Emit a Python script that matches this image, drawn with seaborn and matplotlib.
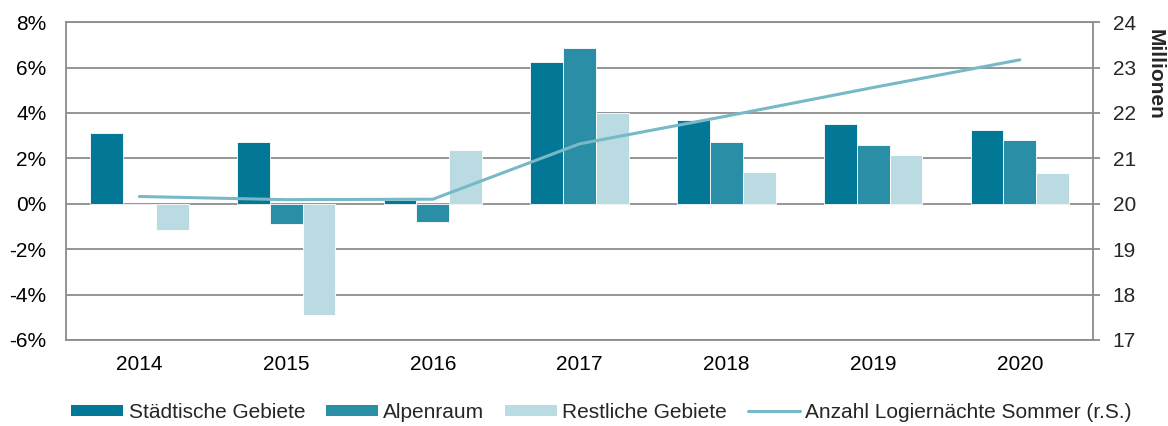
import matplotlib
matplotlib.use("Agg")
import matplotlib.pyplot as plt
from matplotlib.patches import Patch
from matplotlib.lines import Line2D
import numpy as np
import pandas as pd
import seaborn as sns

years = ["2014", "2015", "2016", "2017", "2018", "2019", "2020"]
staedtisch = [3.12, 2.74, 0.18, 6.24, 3.68, 3.53, 3.26]
alpenraum = [0.0, -0.91, -0.81, 6.84, 2.71, 2.60, 2.82]
restlich = [-1.15, -4.9, 2.35, 3.99, 1.40, 2.13, 1.35]
logiernaechte = [20.16, 20.09, 20.10, 21.32, 21.93, 22.56, 23.17]
series = ["Städtische Gebiete", "Alpenraum", "Restliche Gebiete"]
line_label = "Anzahl Logiernächte Sommer (r.S.)"

colors = ["#037896", "#2a8fa6", "#badbe2"]
line_col = "#77b9c7"
grid_col = "#8c8c8c"

df = pd.DataFrame({"Jahr": years * 3,
                   "Wert": staedtisch + alpenraum + restlich,
                   "Gebiet": np.repeat(series, len(years))})

sns.set_style("white")
plt.rcParams["font.family"] = ["Liberation Sans", "DejaVu Sans"]
fs = 15

fig = plt.figure(figsize=(11.68, 4.26), dpi=100)
ax = fig.add_axes([0.0565, 0.202, 0.8795, 0.746])

ax.set_axisbelow(True)
ax.yaxis.grid(True, color=grid_col, lw=1.3)
sns.barplot(data=df, x="Jahr", y="Wert", hue="Gebiet", palette=colors,
            width=0.67, edgecolor="white", linewidth=0.6, saturation=1,
            legend=False, ax=ax)
ax.set_xlim(-0.5, 6.5)
ax.set_ylim(-6, 8)
ax.set_yticks(range(-6, 9, 2))
ax.set_yticklabels([f"{v}%" for v in range(-6, 9, 2)])
ax.set_xlabel("")
ax.set_ylabel("")
ax.tick_params(axis="both", length=0, labelsize=fs, colors="black")
ax.tick_params(axis="x", pad=11)
ax.tick_params(axis="y", pad=14)
for s in ax.spines.values():
    s.set_color(grid_col)
    s.set_linewidth(1.3)

ax2 = ax.twinx()
ax2.plot(np.arange(len(years)), logiernaechte, color=line_col, lw=2.2)
ax2.set_ylim(17, 24)
ax2.set_yticks(range(17, 25))
ax2.tick_params(axis="y", length=5, width=1.3, color=grid_col, labelsize=fs, pad=9)
for s in ax2.spines.values():
    s.set_visible(False)

fig.text(0.9888, 0.826, "Millionen", rotation=270, fontsize=fs, fontweight="bold",
         ha="center", va="center")

handles = [Patch(facecolor=c, edgecolor="none") for c in colors]
handles.append(Line2D([0], [0], color=line_col, lw=2.2))
fig.legend(handles, series + [line_label], loc="center", ncol=4,
           bbox_to_anchor=(0.515, 0.032), frameon=False, fontsize=fs,
           handlelength=2.5, handleheight=0.5, handletextpad=0.25, columnspacing=1.0)

fig.savefig("out.png", dpi=100)
